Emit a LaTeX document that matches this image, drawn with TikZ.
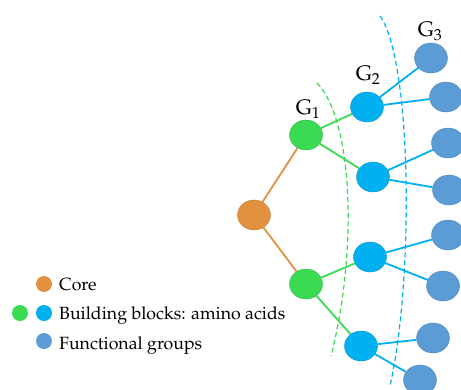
\documentclass[tikz,border=0pt]{standalone}
\usepackage[T1]{fontenc}
\usepackage{mathpazo}
\usetikzlibrary{positioning,shapes.geometric}
\definecolor{coreorange}{RGB}{226,146,62}
\definecolor{blockgreen}{RGB}{58,218,82}
\definecolor{blockblue}{RGB}{0,176,240}
\definecolor{funcblue}{RGB}{92,156,214}

\begin{document}
\begin{tikzpicture}[x=1pt,y=-1pt,
	ball/.style={ellipse, inner sep=0pt, minimum width=33pt, minimum height=30pt},
	coreball/.style={ball, fill=coreorange, draw=coreorange!85!black, thin},
	gball/.style={ball, fill=blockgreen, draw=blockgreen!85!black, thin},
	bball/.style={ball, fill=blockblue, draw=blockblue!85!black, thin},
	fball/.style={ball, fill=funcblue, draw=funcblue!85!black, thin},
	dot/.style={circle, inner sep=0pt, minimum size=16pt},
	link/.style={line width=1.8pt},
	gen/.style={dashed, dash pattern=on 5pt off 3pt, line width=1.2pt},
	lbl/.style={inner sep=0pt, font=\fontsize{17.7}{21}\selectfont},
	glbl/.style={inner sep=0pt, font=\fontsize{21}{24}\selectfont},
	]
	\useasboundingbox (0,0) rectangle (461,389);
	
	% core and generations
	\node[coreball] (c) at (254,215) {};
	\node[gball] (g1a) at (306,135) {};
	\node[gball] (g1b) at (306,284) {};
	\node[bball] (g2a) at (367,107) {};
	\node[bball] (g2b) at (373,177) {};
	\node[bball] (g2c) at (370,257) {};
	\node[bball] (g2d) at (361,346) {};
	\node[fball] (g3a) at (431,58) {};
	\node[fball] (g3b) at (446,97) {};
	\node[fball] (g3c) at (448,143) {};
	\node[fball] (g3d) at (449,190) {};
	\node[fball] (g3e) at (448,235) {};
	\node[fball] (g3f) at (443,286) {};
	\node[fball] (g3g) at (433,338) {};
	\node[fball] (g3h) at (420,380) {};
	
	\draw[link, coreorange] (c) to (g1a);
	\draw[link, coreorange] (c) to (g1b);
	\draw[link, blockgreen] (g1a) to (g2a);
	\draw[link, blockgreen] (g1a) to (g2b);
	\draw[link, blockgreen] (g1b) to (g2c);
	\draw[link, blockgreen] (g1b) to (g2d);
	\draw[link, blockblue] (g2a) to (g3a);
	\draw[link, blockblue] (g2a) to (g3b);
	\draw[link, blockblue] (g2b) to (g3c);
	\draw[link, blockblue] (g2b) to (g3d);
	\draw[link, blockblue] (g2c) to (g3e);
	\draw[link, blockblue] (g2c) to (g3f);
	\draw[link, blockblue] (g2d) to (g3g);
	\draw[link, blockblue] (g2d) to (g3h);
	
	% generation borders
	\draw[gen, blockgreen] (317,83) .. controls (353,120) and (358,250) .. (331,356);
	\draw[gen, blockblue] (380,16) .. controls (412,60) and (414,280) .. (390,386);
	
	\node[glbl] (l1) at (308,109) {$\mathrm{G}_1$};
	\node[glbl] (l2) at (368,75) {$\mathrm{G}_2$};
	\node[glbl] (l3) at (430,31) {$\mathrm{G}_3$};
	
	% legend
	\node[dot, fill=coreorange] (dcore) at (44,284) {};
	\node[dot, fill=blockgreen] (dgreen) at (20,313) {};
	\node[dot, fill=blockblue] (dblue) at (44,313) {};
	\node[dot, fill=funcblue] (dfunc) at (44,341) {};
	\node[lbl, anchor=base west] (tcore) at (59,290) {Core};
	\node[lbl, anchor=base west] (tblock) at (59,319) {Building blocks: amino acids};
	\node[lbl, anchor=base west] (tfunc) at (59,349) {Functional groups};
\end{tikzpicture}
\end{document}
